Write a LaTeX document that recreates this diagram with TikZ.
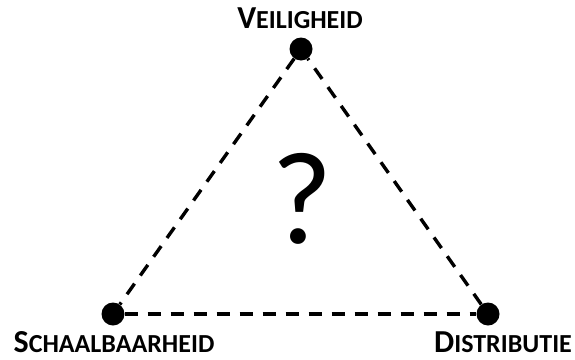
\documentclass[tikz,border=0pt]{standalone}
\usepackage{fontspec}
\setmainfont{Carlito}
\newcommand{\fsc}[2]{{\fontsize{32}{34}\selectfont #1}{\fontsize{26}{28}\selectfont #2}}
\begin{document}
\begin{tikzpicture}[x=1pt,y=1pt,
  dot/.style={circle,fill=black,inner sep=0pt,minimum size=23pt},
  lbl/.style={inner sep=0pt,font=\bfseries},
  edge/.style={line width=3.4pt,dash pattern=on 13pt off 10pt}]
\useasboundingbox (0,0) rectangle (575,-359);
\node[dot] (v) at (301,-49) {};
\node[dot] (s) at (113,-314) {};
\node[dot] (d) at (488,-314) {};
\node[lbl,anchor=base] (lv) at (300,-28) {\fsc{V}{EILIGHEID}};
\node[lbl,anchor=base] (ls) at (114,-352) {\fsc{S}{CHAALBAARHEID}};
\node[lbl,anchor=base] (ld) at (503,-352) {\fsc{D}{ISTRIBUTIE}};
\node[inner sep=0pt,anchor=base,font=\fontsize{132}{132}\selectfont] (q) at (302,-243) {?};
\draw[edge] (v) -- (s);
\draw[edge] (s) -- (d);
\draw[edge] (d) -- (v);
\end{tikzpicture}
\end{document}
